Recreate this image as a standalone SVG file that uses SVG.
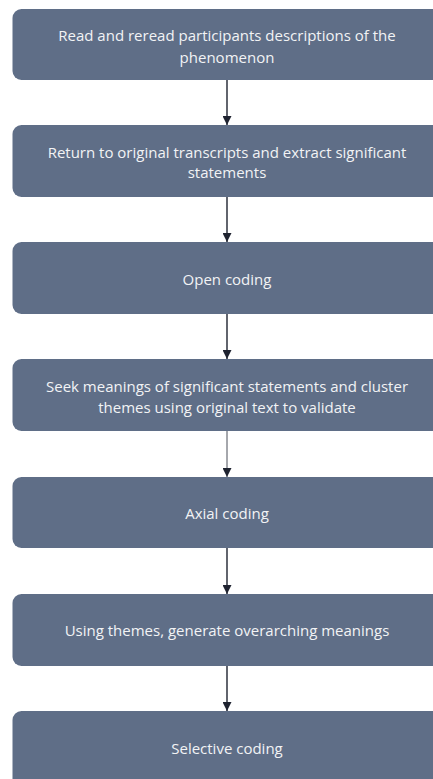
<svg xmlns="http://www.w3.org/2000/svg" width="433" height="779" viewBox="0 0 433 779">
  <style>
    .box { fill: #5f6e87; }
    .lbl { fill: #f2f3f5; font-family: "Open Sans", "Liberation Sans", sans-serif; font-size: 15px; text-anchor: middle; }
    .conn { stroke: #1f2330; stroke-width: 1.4; fill: none; }
    .conn.thin { stroke-width: 0.8; }
  </style>
  <defs>
    <marker id="arrow" viewBox="0 0 10 10" refX="10" refY="5" markerWidth="9" markerHeight="9" markerUnits="userSpaceOnUse" orient="auto">
      <path d="M0,0 L10,5 L0,10 Z" fill="#1f2330"/>
    </marker>
  </defs>
  <rect width="433" height="779" fill="#ffffff"/>

  <g id="step1">
    <rect class="box" x="12.5" y="9" width="440" height="71" rx="9"/>
    <text class="lbl" x="227" y="41">Read and reread participants descriptions of the</text>
    <text class="lbl" x="227" y="62.5">phenomenon</text>
  </g>
  <g id="step2">
    <rect class="box" x="12.5" y="125" width="440" height="72" rx="9"/>
    <text class="lbl" x="227" y="157.7">Return to original transcripts and extract significant</text>
    <text class="lbl" x="227" y="178">statements</text>
  </g>
  <g id="step3">
    <rect class="box" x="12.5" y="242" width="440" height="72" rx="9"/>
    <text class="lbl" x="227" y="285">Open coding</text>
  </g>
  <g id="step4">
    <rect class="box" x="12.5" y="359" width="440" height="72" rx="9"/>
    <text class="lbl" x="227" y="392.3">Seek meanings of significant statements and cluster</text>
    <text class="lbl" x="227" y="412.5">themes using original text to validate</text>
  </g>
  <g id="step5">
    <rect class="box" x="12.5" y="477" width="440" height="71" rx="9"/>
    <text class="lbl" x="227" y="519">Axial coding</text>
  </g>
  <g id="step6">
    <rect class="box" x="12.5" y="594" width="440" height="72" rx="9"/>
    <text class="lbl" x="227" y="636">Using themes, generate overarching meanings</text>
  </g>
  <g id="step7">
    <rect class="box" x="12.5" y="711" width="440" height="80" rx="9"/>
    <text class="lbl" x="227" y="754">Selective coding</text>
  </g>

  <g id="connectors">
    <line class="conn" x1="227" y1="80" x2="227" y2="125" marker-end="url(#arrow)"/>
    <line class="conn" x1="227" y1="197" x2="227" y2="242" marker-end="url(#arrow)"/>
    <line class="conn" x1="227" y1="314" x2="227" y2="359" marker-end="url(#arrow)"/>
    <line class="conn thin" x1="227" y1="431" x2="227" y2="477" marker-end="url(#arrow)"/>
    <line class="conn" x1="227" y1="548" x2="227" y2="594" marker-end="url(#arrow)"/>
    <line class="conn" x1="227" y1="666" x2="227" y2="711" marker-end="url(#arrow)"/>
  </g>
</svg>
